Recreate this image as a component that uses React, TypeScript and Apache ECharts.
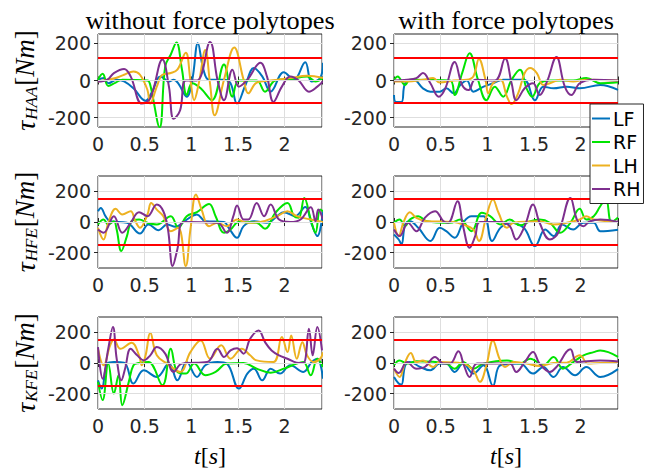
import React, { useEffect, useRef } from 'react';
import * as echarts from 'echarts';

type P = [number, number][];

// ---------- HAA, without force polytopes ----------
const haaWoLF: P = [[0,4],[0.06,13],[0.11,-15],[0.2,4],[0.28,-5],[0.38,-42],[0.51,-109],[0.58,-60],[0.67,22],[0.76,-5],[0.81,4],[0.86,-15],[0.95,-87],[1.01,4],[1.07,200],[1.13,58],[1.19,4],[1.35,4],[1.42,-15],[1.49,-124],[1.58,-24],[1.67,67],[1.76,22],[1.85,-60],[1.99,44],[2.1,4],[2.22,98],[2.29,-5],[2.38,13],[2.41,95]];
const haaWoRF: P = [[0,4],[0.05,36],[0.11,-29],[0.19,-11],[0.26,4],[0.53,0],[0.56,-24],[0.66,-251],[0.72,76],[0.78,140],[0.84,204],[0.9,58],[0.95,-78],[1.01,-15],[1.1,-42],[1.22,-106],[1.35,86],[1.44,-87],[1.51,0],[1.7,0],[1.79,-60],[1.9,0],[2.06,7],[2.24,22],[2.33,-5],[2.41,13]];
const haaWoLH: P = [[0,-5],[0.1,4],[0.19,13],[0.28,31],[0.38,49],[0.45,31],[0.53,-51],[0.56,-124],[0.63,-33],[0.69,31],[0.78,40],[0.85,58],[0.94,149],[0.99,4],[1.03,-106],[1.08,-15],[1.15,164],[1.2,-15],[1.25,-187],[1.35,4],[1.46,177],[1.56,4],[1.61,-69],[1.7,-11],[1.85,0],[2.06,13],[2.24,25],[2.41,13]];
const haaWoRH: P = [[0,-5],[0.1,4],[0.17,40],[0.28,62],[0.35,22],[0.47,-124],[0.56,-96],[0.69,113],[0.76,-33],[0.81,-206],[0.88,-160],[0.94,0],[1.06,0],[1.2,207],[1.28,4],[1.35,-106],[1.44,58],[1.51,-33],[1.6,4],[1.74,95],[1.81,22],[1.88,-115],[1.97,-33],[2.06,22],[2.15,0],[2.26,-60],[2.35,-33],[2.41,-5]];

// ---------- HAA, with force polytopes ----------
const haaWLF: P = [[0,-78],[0.02,-115],[0.08,-115],[0.12,-15],[0.21,4],[0.31,-42],[0.39,-60],[0.49,-60],[0.56,-42],[0.64,-69],[0.71,-24],[0.78,0],[0.85,-60],[0.96,-33],[1.06,-15],[1.17,4],[1.39,4],[1.51,-106],[1.6,-33],[1.71,-42],[1.85,-33],[1.99,-42],[2.21,-24],[2.4,-50]];
const haaWRF: P = [[0,4],[0.04,22],[0.06,13],[0.12,-24],[0.17,4],[0.6,0],[0.65,-78],[0.73,40],[0.81,146],[0.9,4],[0.99,-106],[1.08,-33],[1.17,-87],[1.26,4],[1.35,58],[1.42,-42],[1.48,-87],[1.56,-15],[1.67,0],[1.92,0],[2.06,13],[2.21,-15],[2.4,-10]];
const haaWLH: P = [[0,-5],[0.14,-5],[0.31,4],[0.42,13],[0.49,-11],[0.64,0],[0.78,4],[0.85,22],[0.91,116],[0.98,4],[1.01,-69],[1.06,-15],[1.14,4],[1.21,-87],[1.26,-127],[1.33,-69],[1.4,40],[1.46,67],[1.53,40],[1.6,-24],[1.67,-15],[1.78,4],[1.92,-5],[2.06,4],[2.4,0]];
const haaWRH: P = [[0,0],[0.14,4],[0.24,13],[0.31,40],[0.39,-15],[0.48,-87],[0.55,-42],[0.65,100],[0.73,-24],[0.8,-51],[0.87,4],[1.08,0],[1.19,118],[1.26,-15],[1.31,-106],[1.4,-42],[1.49,-15],[1.56,-78],[1.64,-5],[1.74,126],[1.83,-33],[1.9,-78],[1.99,-15],[2.14,4],[2.4,0]];

// ---------- HFE, without force polytopes ----------
const hfeWoLF: P = [[0,70],[0.03,92],[0.08,38],[0.13,5],[0.31,-5],[0.45,-75],[0.54,-16],[0.65,-53],[0.74,-16],[0.83,-31],[0.95,16],[1.06,49],[1.15,5],[1.35,0],[1.4,-38],[1.49,-103],[1.56,-27],[1.67,5],[1.81,-5],[1.92,38],[1.99,64],[2.11,38],[2.22,98],[2.29,-16],[2.35,-92],[2.41,70]];
const hfeWoRF: P = [[0,-16],[0.06,16],[0.11,-16],[0.17,5],[0.2,-49],[0.25,-189],[0.31,-92],[0.36,5],[0.44,16],[0.53,-5],[0.63,-16],[0.78,38],[0.86,-38],[0.95,38],[1.06,64],[1.19,118],[1.26,38],[1.35,-70],[1.42,-49],[1.51,0],[1.7,-5],[1.79,-44],[1.9,60],[2.03,124],[2.1,38],[2.15,27],[2.21,157],[2.28,16],[2.33,-70],[2.38,81],[2.41,70]];
const hfeWoLH: P = [[0,-38],[0.06,-114],[0.11,-5],[0.19,86],[0.26,49],[0.35,70],[0.4,5],[0.45,-38],[0.53,49],[0.57,124],[0.63,81],[0.7,38],[0.78,-60],[0.86,-38],[0.94,-287],[0.99,-49],[1.05,179],[1.11,81],[1.19,-27],[1.28,-5],[1.38,-27],[1.49,16],[1.6,-5],[1.74,0],[1.92,38],[2.03,70],[2.13,38],[2.28,16],[2.41,0]];
const hfeWoRH: P = [[0,-49],[0.06,-70],[0.17,38],[0.26,-70],[0.35,-5],[0.44,64],[0.53,38],[0.63,114],[0.7,70],[0.75,-49],[0.8,-287],[0.85,-179],[0.92,0],[1.28,-5],[1.38,-70],[1.45,38],[1.49,107],[1.56,16],[1.61,16],[1.7,124],[1.78,38],[1.85,114],[1.94,16],[2.06,0],[2.17,16],[2.28,96],[2.33,5],[2.36,81],[2.41,16]];

// ---------- HFE, with force polytopes ----------
const hfeWLF: P = [[0,-81],[0.05,-114],[0.08,-146],[0.12,-16],[0.17,5],[0.26,-38],[0.39,-124],[0.49,-38],[0.56,-60],[0.65,-103],[0.74,-5],[0.83,38],[0.96,38],[1.05,-124],[1.14,-38],[1.24,-5],[1.39,-38],[1.51,-157],[1.62,-49],[1.71,-92],[1.8,-16],[1.92,-49],[2.03,-5],[2.14,-5],[2.21,-60],[2.4,-50]];
const hfeWRF: P = [[0,-5],[0.06,16],[0.12,-27],[0.17,16],[0.26,38],[0.35,5],[0.6,-5],[0.71,16],[0.83,-60],[0.94,60],[1.03,38],[1.14,-16],[1.24,16],[1.35,-22],[1.46,5],[1.56,16],[1.67,-5],[1.78,-70],[1.89,-5],[1.99,86],[2.06,16],[2.14,38],[2.21,103],[2.27,150],[2.33,0],[2.4,30]];
const hfeWLH: P = [[0,-5],[0.05,-92],[0.1,-5],[0.17,64],[0.24,27],[0.35,5],[0.64,0],[0.74,-16],[0.85,-49],[0.91,-124],[0.99,38],[1.06,146],[1.12,60],[1.21,-38],[1.28,-5],[1.56,5],[1.71,-16],[1.85,-5],[1.99,16],[2.06,38],[2.14,16],[2.4,0]];
const hfeWRH: P = [[0,-49],[0.06,-92],[0.15,-5],[0.24,-60],[0.33,27],[0.44,70],[0.53,5],[0.58,-5],[0.68,135],[0.74,-27],[0.81,-168],[0.87,-92],[0.92,0],[1.14,0],[1.24,-27],[1.31,-114],[1.4,-27],[1.49,114],[1.56,-5],[1.67,-114],[1.76,-70],[1.89,157],[1.96,16],[2.03,-27],[2.1,5],[2.21,16],[2.4,0]];

// ---------- KFE, without force polytopes ----------
const kfeWoLF: P = [[0,-113],[0.04,-167],[0.1,-4],[0.17,6],[0.28,2],[0.38,-134],[0.49,-48],[0.63,-91],[0.76,-4],[0.85,-113],[0.95,6],[1.06,-91],[1.15,-15],[1.28,6],[1.38,-4],[1.51,-167],[1.6,-69],[1.67,-37],[1.76,-113],[1.85,-37],[1.95,-69],[2.06,-15],[2.2,-58],[2.29,6],[2.35,28],[2.41,-102]];
const kfeWoRF: P = [[0,-123],[0.05,-242],[0.11,-4],[0.17,-199],[0.22,-80],[0.26,-275],[0.33,-123],[0.38,-15],[0.44,0],[0.54,6],[0.69,-145],[0.78,93],[0.85,-58],[0.94,-69],[1.03,-4],[1.15,-80],[1.26,-58],[1.38,-4],[1.56,0],[1.7,-37],[1.85,-63],[1.99,-37],[2.13,-4],[2.2,6],[2.28,-80],[2.35,28],[2.41,-26]];
const kfeWoLH: P = [[0,93],[0.06,-15],[0.13,115],[0.17,154],[0.24,93],[0.36,132],[0.44,50],[0.47,-15],[0.51,50],[0.56,197],[0.63,50],[0.74,-4],[0.88,-58],[0.99,71],[1.1,147],[1.2,28],[1.32,115],[1.42,28],[1.54,93],[1.63,50],[1.7,17],[1.88,6],[1.97,169],[2.03,71],[2.07,180],[2.13,28],[2.19,136],[2.24,50],[2.31,6],[2.38,28],[2.41,71]];
const kfeWoRH: P = [[0,104],[0.05,-102],[0.11,93],[0.16,234],[0.2,28],[0.25,-113],[0.29,-37],[0.35,93],[0.42,50],[0.49,17],[0.56,50],[0.63,104],[0.72,61],[0.81,-58],[0.9,-4],[1.17,6],[1.28,93],[1.35,39],[1.42,82],[1.49,97],[1.56,61],[1.63,158],[1.72,212],[1.79,136],[1.86,82],[1.94,50],[2.03,28],[2.13,2],[2.2,0],[2.26,223],[2.3,50],[2.35,234],[2.4,82]];

// ---------- KFE, with force polytopes ----------
const kfeWLF: P = [[0,-91],[0.05,-134],[0.08,-141],[0.12,-15],[0.17,6],[0.28,-26],[0.39,-48],[0.49,-4],[0.56,-4],[0.65,-58],[0.74,-4],[0.85,-69],[0.96,-15],[1.06,-149],[1.14,-15],[1.35,-4],[1.49,-69],[1.6,-26],[1.71,-91],[1.81,-26],[1.94,-80],[2.06,-26],[2.21,-91],[2.4,-40]];
const kfeWRF: P = [[0,-15],[0.06,17],[0.14,-4],[0.24,11],[0.56,-4],[0.65,-37],[0.74,6],[0.85,-37],[0.96,-4],[1.21,17],[1.35,-4],[1.46,28],[1.6,-15],[1.71,39],[1.81,-37],[1.92,6],[2.03,50],[2.14,71],[2.21,82],[2.4,40]];
const kfeWLH: P = [[0,-37],[0.06,-91],[0.12,6],[0.18,65],[0.24,6],[0.31,17],[0.42,-26],[0.49,6],[0.74,-4],[0.85,-48],[0.92,-123],[0.99,-15],[1.06,147],[1.13,28],[1.19,-26],[1.28,6],[1.42,-4],[1.56,-19],[1.71,0],[1.85,2],[1.99,50],[2.08,-4],[2.21,0],[2.4,0]];
const kfeWRH: P = [[0,-37],[0.05,-65],[0.14,6],[0.24,-37],[0.33,-26],[0.44,39],[0.53,-4],[0.6,-4],[0.69,76],[0.75,-15],[0.81,-91],[0.89,-4],[1.24,-4],[1.31,-58],[1.4,6],[1.49,71],[1.56,-4],[1.67,-58],[1.74,-26],[1.89,89],[1.96,6],[2.21,17],[2.4,10]];

const legendNames = ['LF', 'RF', 'LH', 'RH'];
const lineColors = ['#0072BD', '#00E400', '#EDB120', '#7E2F8E'];
const jointNames = ['HAA', 'HFE', 'KFE'];
const colTitles = ['without force polytopes', 'with force polytopes'];
const xTickLabels = [0, 0.5, 1, 1.5, 2];
const yTickLabels = [-200, 0, 200];
const yRanges: [number, number][] = [[-250, 250], [-300, 300], [-300, 300]];
const torqueLimits = [120, 150, 150];
const tMax = 2.4;

const panelData: P[][][] = [
  [[haaWoLF, haaWoRF, haaWoLH, haaWoRH], [haaWLF, haaWRF, haaWLH, haaWRH]],
  [[hfeWoLF, hfeWoRF, hfeWoLH, hfeWoRH], [hfeWLF, hfeWRF, hfeWLH, hfeWRH]],
  [[kfeWoLF, kfeWoRF, kfeWoLH, kfeWoRH], [kfeWLF, kfeWRF, kfeWLH, kfeWRH]],
];

const colLeft = [98, 394];
const colWidth = 224;
const rowTop = [34, 176, 317];
const rowHeight = [93, 92, 92];

const AX = '#262626';
const GRID = '#dedede';
const SANS = 'DejaVu Sans, Liberation Sans, Arial, sans-serif';
const SERIF = 'Liberation Serif, Times New Roman, serif';

function buildOption() {
  const grid: any[] = [];
  const xAxis: any[] = [];
  const yAxis: any[] = [];
  const series: any[] = [];
  const graphic: any[] = [];

  for (let r = 0; r < 3; r++) {
    for (let c = 0; c < 2; c++) {
      const g = grid.length;
      grid.push({
        left: colLeft[c], top: rowTop[r], width: colWidth, height: rowHeight[r],
        show: true, borderColor: AX, borderWidth: 1, backgroundColor: 'transparent',
      });
      const common = { gridIndex: g, type: 'value', min: 0, max: tMax, interval: 0.5 };
      xAxis.push({
        ...common, position: 'bottom',
        axisLine: { show: false },
        axisTick: { inside: true, length: 4, lineStyle: { color: AX } },
        axisLabel: {
          fontSize: 19, fontFamily: SANS, color: AX, margin: 7,
          formatter: (v: number) => (xTickLabels.some((t) => Math.abs(t - v) < 1e-6) ? String(v) : ''),
        },
        splitLine: { show: true, lineStyle: { color: GRID, width: 1 } },
      });
      xAxis.push({
        ...common, position: 'top',
        axisLine: { show: false },
        axisTick: { inside: true, length: 4, lineStyle: { color: AX } },
        axisLabel: { show: false },
        splitLine: { show: false },
      });
      const ycommon = { gridIndex: g, type: 'value', min: yRanges[r][0], max: yRanges[r][1] };
      yAxis.push({
        ...ycommon, position: 'left',
        axisLine: { show: false },
        axisTick: { inside: true, length: 4, lineStyle: { color: AX }, customValues: yTickLabels },
        axisLabel: { fontSize: 19, fontFamily: SANS, color: AX, margin: 7, customValues: yTickLabels },
        splitLine: { show: false },
      });
      yAxis.push({
        ...ycommon, position: 'right',
        axisLine: { show: false },
        axisTick: { inside: true, length: 4, lineStyle: { color: AX }, customValues: yTickLabels },
        axisLabel: { show: false },
        splitLine: { show: false },
      });
      const xi = 2 * g;
      const yi = 2 * g;
      series.push({
        type: 'line', name: 'gridlines', xAxisIndex: xi, yAxisIndex: yi, data: [], z: 1,
        silent: true,
        markLine: {
          silent: true, symbol: ['none', 'none'], label: { show: false },
          lineStyle: { color: GRID, type: 'solid', width: 1 },
          data: yTickLabels.map((v) => ({ yAxis: v })),
        },
      });
      panelData[r][c].forEach((d, k) => {
        series.push({
          type: 'line', name: legendNames[k], xAxisIndex: xi, yAxisIndex: yi,
          data: d, showSymbol: false, symbol: 'none', smooth: 0.4,
          lineStyle: { color: lineColors[k], width: 2 }, itemStyle: { color: lineColors[k] },
          z: 2, clip: true,
        });
      });
      series.push({
        type: 'line', name: 'limits', xAxisIndex: xi, yAxisIndex: yi, data: [], z: 3,
        silent: true,
        markLine: {
          silent: true, symbol: ['none', 'none'], label: { show: false },
          lineStyle: { color: '#FF0000', type: 'solid', width: 2 },
          data: [{ yAxis: torqueLimits[r] }, { yAxis: -torqueLimits[r] }],
        },
      });
    }
  }

  // column titles and x-axis titles
  colTitles.forEach((t, c) => {
    graphic.push({
      type: 'text', x: colLeft[c] + colWidth / 2, y: 20.5, scaleX: 1.05,
      style: {
        text: t, fontFamily: SERIF, fontSize: 25, fill: '#000',
        align: 'center', verticalAlign: 'middle', textAlign: 'center', textVerticalAlign: 'middle',
      },
    });
    graphic.push({
      type: 'text', x: colLeft[c] + colWidth / 2, y: 456,
      style: {
        text: '{i|t}{n|[}{i|s}{n|]}', fill: '#000',
        align: 'center', verticalAlign: 'middle', textAlign: 'center', textVerticalAlign: 'middle',
        rich: {
          i: { fontFamily: SERIF, fontStyle: 'italic', fontSize: 24, fill: '#000' },
          n: { fontFamily: SERIF, fontSize: 24, fill: '#000' },
        },
      },
    });
  });

  // row y-axis titles
  jointNames.forEach((j, r) => {
    graphic.push({
      type: 'text', x: 25, y: rowTop[r] + rowHeight[r] / 2, rotation: Math.PI / 2,
      style: {
        text: `{t|τ}{s|${j}}{b|[}{i|Nm}{b|]}`, fill: '#000',
        align: 'center', verticalAlign: 'middle', textAlign: 'center', textVerticalAlign: 'middle',
        rich: {
          t: { fontFamily: SERIF, fontStyle: 'italic', fontSize: 28, lineHeight: 30, fill: '#000' },
          s: { fontFamily: SERIF, fontStyle: 'italic', fontSize: 17, lineHeight: 16, verticalAlign: 'bottom', padding: [0, 1, 0, 1], fill: '#000' },
          b: { fontFamily: SERIF, fontSize: 27, lineHeight: 30, fill: '#000' },
          i: { fontFamily: SERIF, fontStyle: 'italic', fontSize: 27, lineHeight: 30, fill: '#000' },
        },
      },
    });
  });

  return {
    animation: false,
    backgroundColor: '#ffffff',
    grid, xAxis, yAxis, series, graphic,
    legend: {
      data: legendNames,
      orient: 'vertical',
      left: 590, top: 104,
      padding: [5, 3, 5, 2],
      itemGap: 4.5,
      itemWidth: 18, itemHeight: 2,
      icon: 'rect',
      backgroundColor: '#ffffff',
      borderColor: AX, borderWidth: 1, borderRadius: 0,
      textStyle: { fontSize: 19, fontFamily: SANS, color: '#000', padding: [0, 0, 0, -2] },
      z: 10,
      selectedMode: false,
    },
  };
}

export default function App() {
  const ref = useRef<HTMLDivElement>(null);
  useEffect(() => {
    if (!ref.current) return;
    const chart = echarts.init(ref.current, undefined, { renderer: 'svg' });
    chart.setOption(buildOption() as any);
    return () => chart.dispose();
  }, []);
  return (
    <div
      ref={ref}
      style={{ position: 'fixed', left: 0, top: 0, width: 651, height: 470, background: '#fff' }}
    />
  );
}
